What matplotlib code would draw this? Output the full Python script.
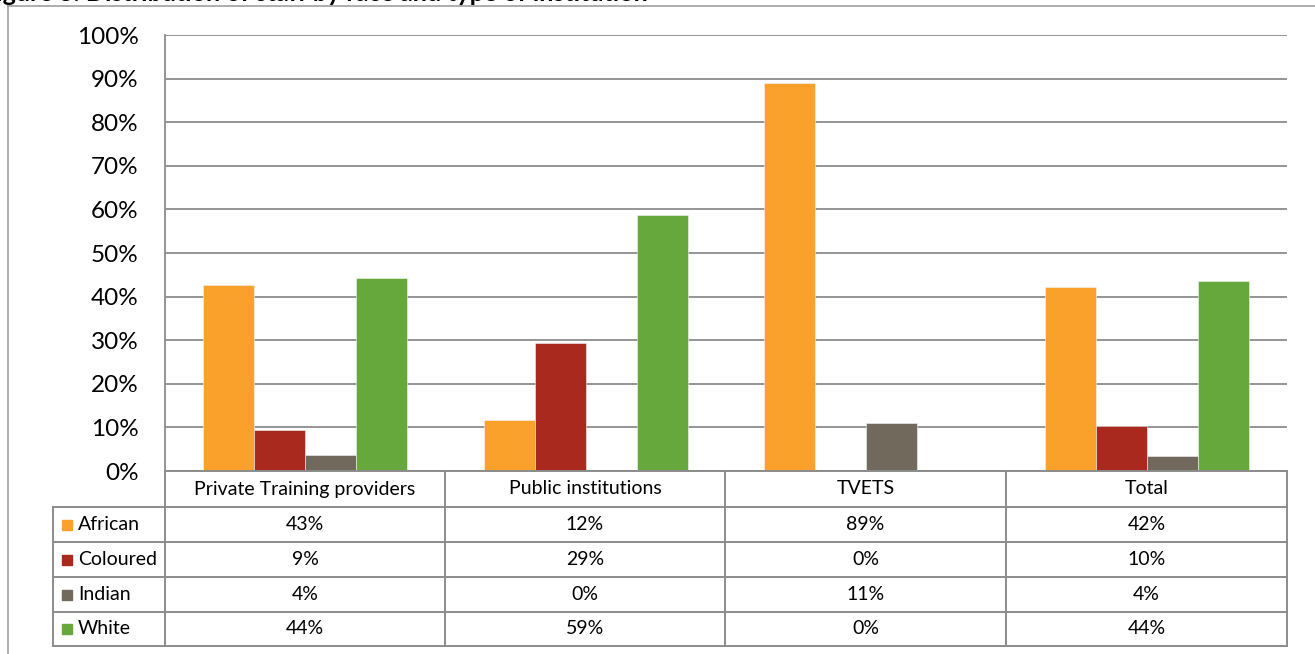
import matplotlib.pyplot as plt
from matplotlib.patches import Rectangle

plt.rcParams['font.family'] = ['Lato', 'DejaVu Sans']

# share of staff per race within each institution type (%)
institutions = ["Private Training providers", "Public institutions", "TVETS", "Total"]
races = ["African", "Coloured", "Indian", "White"]
african = [42.7, 11.8, 88.9, 42.3]
coloured = [9.4, 29.4, 0.0, 10.3]
indian = [3.6, 0.0, 11.1, 3.5]
white = [44.2, 58.8, 0.0, 43.6]
colors = ["#F9A12A", "#A9291E", "#71695B", "#66A83C"]
yticks = [0, 10, 20, 30, 40, 50, 60, 70, 80, 90, 100]

series = [african, coloured, indian, white]

W, H = 1315, 654
fig = plt.figure(figsize=(W / 100, H / 100), dpi=100)
grid_c = "#8C8C8C"

# plot area in pixel terms
x0, x1, ytop, ybot = 165, 1287, 35, 471
ax = fig.add_axes([x0 / W, 1 - ybot / H, (x1 - x0) / W, (ybot - ytop) / H])
bw = 0.182
for i, (vals, c) in enumerate(zip(series, colors)):
    pos = [k + (i - 1.5) * bw for k in range(len(institutions))]
    ax.bar(pos, vals, width=bw, color=c, edgecolor="#f4f4f4", linewidth=0.4, zorder=3)

ax.set_xlim(-0.5, len(institutions) - 0.5)
ax.set_ylim(0, 100)
ax.set_yticks(yticks)
ax.set_yticklabels([f"{t}%" for t in yticks], fontsize=17.5)
ax.tick_params(axis="y", length=0, pad=19)
ax.set_xticks([])
for s in ["top", "right", "bottom"]:
    ax.spines[s].set_visible(False)
ax.spines["left"].set_color(grid_c)
ax.spines["left"].set_linewidth(1.3)
ax.yaxis.grid(True, color=grid_c, linewidth=1.3, zorder=0)
ax.set_axisbelow(True)

# overlay in pixel coordinates for the data table and the frame
ov = fig.add_axes([0, 0, 1, 1], zorder=5)
ov.set_xlim(0, W)
ov.set_ylim(H, 0)
ov.axis("off")
ov.patch.set_alpha(0)

cols = [165, 445, 725, 1006, 1287]
rows = [471, 507, 542, 577, 612, 646]
tl = 53
lw = 1.4
# horizontal lines
ov.plot([cols[0], cols[-1]], [rows[0], rows[0]], color=grid_c, lw=lw)
for r in rows[1:]:
    ov.plot([tl, cols[-1]], [r, r], color=grid_c, lw=lw)
# vertical lines
ov.plot([tl, tl], [rows[1], rows[-1]], color=grid_c, lw=lw)
for c in cols:
    ov.plot([c, c], [rows[0], rows[-1]], color=grid_c, lw=lw)

fs = 14
for j, name in enumerate(institutions):
    xc = (cols[j] + cols[j + 1]) / 2
    ov.text(xc, (rows[0] + rows[1]) / 2, name, ha="center", va="center", fontsize=fs)

for i, (race, vals, c) in enumerate(zip(races, series, colors)):
    yc = (rows[i + 1] + rows[i + 2]) / 2
    ov.add_patch(Rectangle((62, yc - 5), 10, 10, color=c))
    ov.text(78, yc, race, ha="left", va="center", fontsize=fs)
    for j, v in enumerate(vals):
        xc = (cols[j] + cols[j + 1]) / 2
        ov.text(xc, yc, f"{v:.0f}%", ha="center", va="center", fontsize=fs)

# outer chart frame
ov.plot([8, 8], [6, H + 5], color="#A0A0A0", lw=1.2)
ov.plot([8, W + 5], [6, 6], color="#A0A0A0", lw=1.2)

# caption sits above the frame, mostly cut off
fig.text(-18 / W, 1.0 - 1.0 / H, "Figure 3: Distribution of staff by race and type of institution",
         ha="left", va="baseline", fontsize=18, fontweight="bold")

fig.savefig("out.png", dpi=100)
